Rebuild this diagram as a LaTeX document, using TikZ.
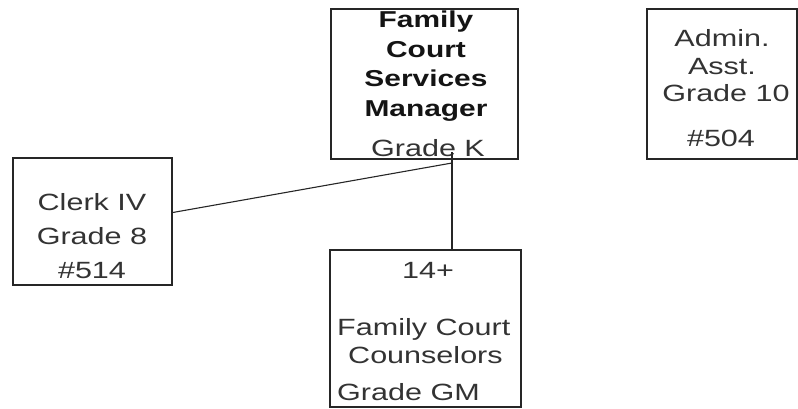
\documentclass[tikz,border=0pt]{standalone}
\usepackage{fontspec}
\setmainfont{Liberation Sans}[FakeStretch=1.3]
\usetikzlibrary{calc}
\begin{document}
\begin{tikzpicture}[x=1pt,y=-1pt,
  box/.style={draw=black!85, line width=1.4pt, rectangle, inner sep=0pt},
  txt/.style={inner sep=0pt, anchor=base, text=black!80, font=\fontsize{23.5}{28}\selectfont},
  btxt/.style={inner sep=0pt, anchor=base, text=black!92, font=\fontsize{23}{28}\selectfont\bfseries},
  link/.style={draw=black!85, line width=1.1pt}]
\useasboundingbox (0,0) rectangle (798,409);
% boxes
\node[box, minimum width=187pt, minimum height=150pt] (mgr) at (424.5,84) {};
\node[box, minimum width=150pt, minimum height=150pt] (admin) at (722,84) {};
\node[box, minimum width=159pt, minimum height=127pt] (clerk) at (92.5,221.5) {};
\node[box, minimum width=191pt, minimum height=157pt] (couns) at (425.5,328.5) {};
% manager text
\node[btxt] (m1) at (426,28) {Family};
\node[btxt] (m2) at (426,58) {Court};
\node[btxt] (m3) at (426,87) {Services};
\node[btxt] (m4) at (426,117) {Manager};
\node[txt] (m5) at (428,157) {Grade K};
% admin text
\node[txt] (a1) at (722,47) {Admin.};
\node[txt] (a2) at (722,75) {Asst.};
\node[txt] (a3) at (726,102) {Grade 10};
\node[txt] (a4) at (721,147) {\#504};
% clerk text
\node[txt] (c1) at (92,210) {Clerk IV};
\node[txt] (c2) at (92,244) {Grade 8};
\node[txt] (c3) at (92,278) {\#514};
% counselors text
\node[txt] (f1) at (428,278) {14+};
\node[txt, anchor=base west] (f2) at (337,335) {Family Court};
\node[txt, anchor=base west] (f3) at (348,363) {Counselors};
\node[txt, anchor=base west] (f4) at (337,400) {Grade GM};
% connectors
\coordinate (jtop) at (452,152);
\coordinate (j) at (452,163);
\draw[link] (jtop) -- (jtop |- couns.north);
\draw[link] ($(clerk.north east)!0.43!(clerk.south east)$) -- (j);
\end{tikzpicture}
\end{document}
